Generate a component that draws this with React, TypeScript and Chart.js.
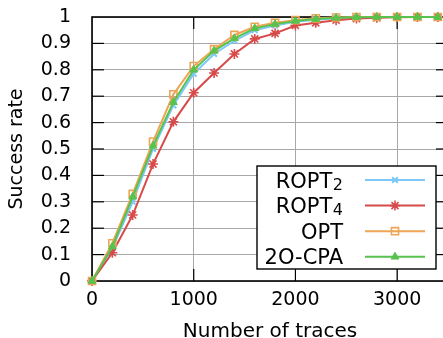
import React, { useEffect, useRef } from 'react';
import { Chart, registerables } from 'chart.js';
import { drawPoint } from 'chart.js/helpers';

Chart.register(...registerables);

const FONT = 'DejaVu Sans';

// Number of traces used for the attack
const traces = [0, 200, 400, 600, 800, 1000, 1200, 1400, 1600, 1800, 2000, 2200, 2400, 2600, 2800, 3000, 3200, 3400];

// Success rate per attack
const ropt2 = [0, 0.125, 0.3, 0.5, 0.665, 0.785, 0.86, 0.91, 0.95, 0.968, 0.982, 0.99, 0.995, 0.998, 1, 1, 1, 1];
const ropt4 = [0, 0.107, 0.25, 0.443, 0.603, 0.713, 0.788, 0.86, 0.917, 0.938, 0.968, 0.978, 0.988, 0.994, 0.997, 0.999, 1, 1];
const opt = [0, 0.143, 0.33, 0.528, 0.707, 0.814, 0.878, 0.932, 0.963, 0.978, 0.988, 0.995, 0.998, 1, 1, 1, 1, 1];
const cpa2o = [0, 0.13, 0.319, 0.512, 0.677, 0.8, 0.872, 0.919, 0.957, 0.973, 0.985, 0.992, 0.997, 0.999, 1, 1, 1, 1];

const xTickValues = [0, 1000, 2000, 3000, 3500];
const yTickValues = [0, 0.1, 0.2, 0.3, 0.4, 0.5, 0.6, 0.7, 0.8, 0.9, 1];

const seriesNames = ['ROPT', 'ROPT', 'OPT', '2O-CPA'];
const seriesSubs = ['2', '4', '', ''];
const seriesColors = ['#7ec8f8', '#d84a4a', '#eea555', '#58c24e'];

const xTitle = 'Number of traces';
const yTitle = 'Success rate';

// Black frame with inward tick marks on all four sides
const framePlugin = {
  id: 'frame',
  beforeDatasetsDraw(chart: any) {
    const { ctx, chartArea: a, scales } = chart;
    ctx.save();
    ctx.strokeStyle = '#000';
    ctx.lineWidth = 1.2;
    const seg = (x1: number, y1: number, x2: number, y2: number) => {
      ctx.beginPath();
      ctx.moveTo(x1, y1);
      ctx.lineTo(x2, y2);
      ctx.stroke();
    };
    const len = 12;
    scales.x.ticks.forEach((t: any) => {
      const px = scales.x.getPixelForValue(t.value);
      if (px <= a.left + 1 || px >= a.right - 1) return;
      seg(px, a.bottom, px, a.bottom - len);
      seg(px, a.top, px, a.top + len);
    });
    scales.y.ticks.forEach((t: any) => {
      const py = scales.y.getPixelForValue(t.value);
      if (py <= a.top + 1 || py >= a.bottom - 1) return;
      seg(a.left, py, a.left + len, py);
      seg(a.right, py, a.right - len, py);
    });
    ctx.lineWidth = 1.6;
    ctx.strokeRect(a.left, a.top, a.right - a.left, a.bottom - a.top);
    ctx.restore();
  },
};

// Boxed key in the lower right: label on the left, line sample on the right
const keyPlugin = {
  id: 'key',
  afterDraw(chart: any) {
    const { ctx, chartArea: a } = chart;
    const w = 179;
    const h = 103;
    const left = a.right - 12 - w;
    const top = a.bottom - 12 - h;
    ctx.save();
    ctx.fillStyle = '#fff';
    ctx.fillRect(left, top, w, h);
    ctx.strokeStyle = '#000';
    ctx.lineWidth = 1.4;
    ctx.strokeRect(left, top, w, h);
    chart.data.datasets.forEach((ds: any, i: number) => {
      const cy = top + 14 + i * 25.6;
      const textRight = left + 86;
      ctx.fillStyle = '#000';
      ctx.textAlign = 'right';
      ctx.textBaseline = 'alphabetic';
      let right = textRight;
      if (seriesSubs[i]) {
        ctx.font = `16px "${FONT}"`;
        ctx.fillText(seriesSubs[i], right, cy + 9.5);
        right -= ctx.measureText(seriesSubs[i]).width + 0.5;
      }
      ctx.font = `21px "${FONT}"`;
      ctx.fillText(seriesNames[i], right, cy + 7.5);
      ctx.strokeStyle = ds.borderColor;
      ctx.lineWidth = ds.borderWidth;
      ctx.beginPath();
      ctx.moveTo(left + 108, cy);
      ctx.lineTo(left + 168, cy);
      ctx.stroke();
      ctx.fillStyle = ds.pointBackgroundColor;
      ctx.strokeStyle = ds.pointBorderColor;
      ctx.lineWidth = ds.pointBorderWidth;
      drawPoint(ctx, { pointStyle: ds.pointStyle, radius: ds.pointRadius, rotation: 0, borderWidth: ds.pointBorderWidth }, left + 138, cy);
    });
    ctx.restore();
  },
};

export default function App() {
  const ref = useRef<HTMLCanvasElement>(null);

  useEffect(() => {
    if (!ref.current) return;
    const styles = [
      { pointStyle: 'crossRot', pointRadius: 4, fill: seriesColors[0], pbw: 2 },
      { pointStyle: 'star', pointRadius: 5, fill: seriesColors[1], pbw: 1.6 },
      { pointStyle: 'rect', pointRadius: 5, fill: 'rgba(0,0,0,0)', pbw: 1.6 },
      { pointStyle: 'triangle', pointRadius: 4.5, fill: seriesColors[3], pbw: 1 },
    ];
    const values = [ropt2, ropt4, opt, cpa2o];
    const datasets = values.map((vals, i) => ({
      label: seriesNames[i] + seriesSubs[i],
      data: traces.map((x, j) => ({ x, y: vals[j] })),
      borderColor: seriesColors[i],
      borderWidth: 2,
      tension: 0,
      pointStyle: styles[i].pointStyle,
      pointRadius: styles[i].pointRadius,
      pointBackgroundColor: styles[i].fill,
      pointBorderColor: seriesColors[i],
      pointBorderWidth: styles[i].pbw,
      clip: false,
      order: values.length - i,
    }));

    const chart = new Chart(ref.current, {
      type: 'line',
      data: { datasets },
      options: {
        responsive: true,
        maintainAspectRatio: false,
        animation: false,
        devicePixelRatio: 1,
        layout: { padding: { top: 17, right: 12, left: 0, bottom: 0 } },
        plugins: { legend: { display: false }, tooltip: { enabled: false } },
        scales: {
          x: {
            type: 'linear',
            min: 0,
            max: 3500,
            border: { display: false },
            grid: { color: '#a8a8a8', lineWidth: 1, drawTicks: true, tickLength: 8, tickColor: 'rgba(0,0,0,0)' },
            afterBuildTicks: (s: any) => {
              s.ticks = xTickValues.map((value) => ({ value }));
            },
            ticks: {
              padding: 0,
              color: '#000',
              maxRotation: 0,
              autoSkip: false,
              font: { family: FONT, size: 19 },
              callback: (v: any) => (Number(v) === 3500 ? '' : String(v)),
            },
            title: {
              display: true,
              text: xTitle,
              color: '#000',
              font: { family: FONT, size: 20, lineHeight: 0.65 },
              padding: { top: 0, bottom: 0 },
            },
            afterFit: (s: any) => {
              s.height = 57;
            },
          },
          y: {
            type: 'linear',
            min: 0,
            max: 1,
            border: { display: false },
            grid: { color: '#a8a8a8', lineWidth: 1, drawTicks: true, tickLength: 21, tickColor: 'rgba(0,0,0,0)' },
            afterBuildTicks: (s: any) => {
              s.ticks = yTickValues.map((value) => ({ value }));
            },
            ticks: {
              padding: 0,
              color: '#000',
              autoSkip: false,
              font: { family: FONT, size: 19 },
              callback: (v: any) => String(Math.round(Number(v) * 10) / 10),
            },
            title: {
              display: true,
              text: yTitle,
              color: '#000',
              font: { family: FONT, size: 19, lineHeight: 1 },
              padding: { top: 8, bottom: 0 },
            },
            afterFit: (s: any) => {
              s.width = 92;
            },
          },
        },
      },
      plugins: [framePlugin, keyPlugin],
    });
    return () => chart.destroy();
  }, []);

  return (
    <div style={{ position: 'absolute', left: 0, top: 0, width: 443, height: 338, overflow: 'hidden', background: '#fff' }}>
      <div style={{ position: 'relative', width: 460, height: 338 }}>
        <canvas ref={ref} />
      </div>
    </div>
  );
}
